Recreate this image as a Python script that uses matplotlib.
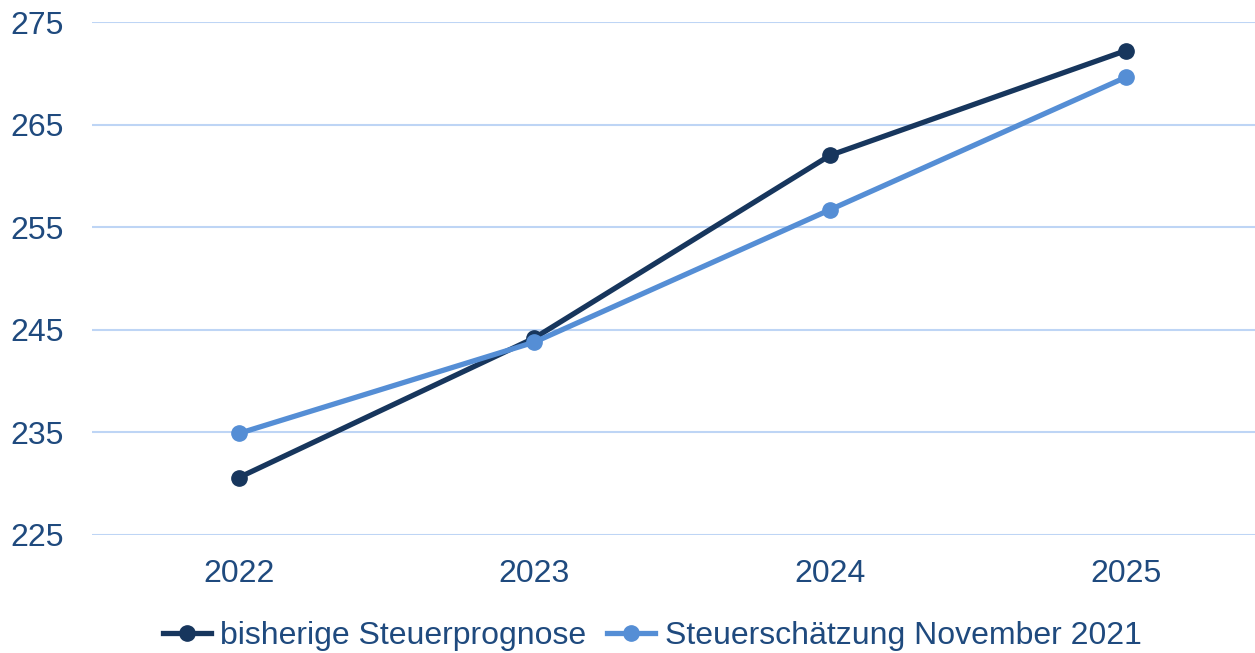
import numpy as np
import matplotlib
matplotlib.use('Agg')
import matplotlib.pyplot as plt

years = ['2022', '2023', '2024', '2025']
bisherige = [230.6, 244.2, 262.0, 272.2]
november = [234.9, 243.8, 256.7, 269.6]
yticks = [225, 235, 245, 255, 265, 275]

text_color = '#1F4A7E'
dark = '#17365D'
light = '#558ED5'
grid_color = '#BED5F5'

plt.rcParams['font.family'] = ['Liberation Sans', 'DejaVu Sans']

fig = plt.figure(figsize=(12.55, 6.53), dpi=100)
ax = fig.add_axes([92 / 1255, 1 - 535 / 653, 1 - 92 / 1255, (535 - 22) / 653])

x = np.arange(len(years))
ax.plot(x, bisherige, color=dark, lw=3.8, marker='o', ms=11,
        label='bisherige Steuerprognose', zorder=3, clip_on=False)
ax.plot(x, november, color=light, lw=3.8, marker='o', ms=11,
        label='Steuerschätzung November 2021', zorder=3, clip_on=False)

ax.set_xlim(-0.497, 3.438)
ax.set_ylim(225, 275)
ax.set_yticks(yticks)
ax.set_xticks(x)
ax.set_xticklabels(years)
ax.grid(axis='y', color=grid_color, lw=1.5)
ax.set_axisbelow(True)
for s in ax.spines.values():
    s.set_visible(False)
ax.tick_params(axis='both', length=0, labelsize=23, labelcolor=text_color)
ax.tick_params(axis='y', pad=20)
ax.tick_params(axis='x', pad=17)

fig.legend(loc='center', bbox_to_anchor=(652 / 1255, 1 - 636 / 653), ncol=2,
           frameon=False, fontsize=23, labelcolor=text_color,
           handlelength=1.5, handletextpad=0.3, columnspacing=0.65, borderaxespad=0)

fig.savefig('out.png', dpi=100)
